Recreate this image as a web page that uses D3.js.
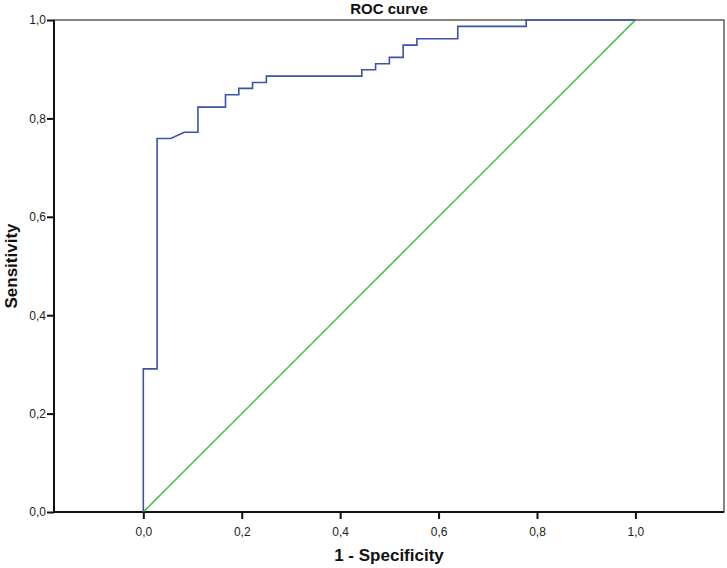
<!DOCTYPE html>
<html>
<head>
<meta charset="utf-8">
<script src="https://cdn.jsdelivr.net/npm/d3@7"></script>
<style>
  html, body { margin: 0; padding: 0; background: #fff; }
  svg text { font-family: Arial, "Liberation Sans", sans-serif; }
</style>
</head>
<body>
<svg id="chart" width="727" height="568"></svg>
<script>
// ROC curve points (1 - specificity, sensitivity)
const fpr = [0, 0, 0.028, 0.028, 0.056, 0.083, 0.111, 0.111, 0.167, 0.167, 0.194, 0.194, 0.222, 0.222, 0.25, 0.25, 0.444, 0.444, 0.472, 0.472, 0.5, 0.5, 0.528, 0.528, 0.556, 0.556, 0.639, 0.639, 0.778, 0.778, 1.0];
const tpr = [0, 0.291, 0.291, 0.759, 0.759, 0.772, 0.772, 0.823, 0.823, 0.848, 0.848, 0.861, 0.861, 0.873, 0.873, 0.886, 0.886, 0.899, 0.899, 0.911, 0.911, 0.924, 0.924, 0.949, 0.949, 0.962, 0.962, 0.987, 0.987, 1.0, 1.0];
// reference diagonal
const refX = [0, 1];
const refY = [0, 1];
const xTicks = [0, 0.2, 0.4, 0.6, 0.8, 1.0];
const yTicks = [0, 0.2, 0.4, 0.6, 0.8, 1.0];
const titleText = "ROC curve";
const xLabel = "1 - Specificity";
const yLabel = "Sensitivity";

(function () {
const svg = d3.select("#chart");
const mLeft = 54, mRight = 724, mTop = 20, mBottom = 512;

const x = d3.scaleLinear().domain([-0.1815, 1.18]).range([mLeft, mRight]);
const y = d3.scaleLinear().domain([0, 1]).range([mBottom, mTop]);
const fmt = d => d3.format(".1f")(d).replace(".", ",");

// frame (top/right)
svg.append("rect")
  .attr("x", mLeft).attr("y", mTop)
  .attr("width", mRight - mLeft).attr("height", mBottom - mTop)
  .attr("fill", "none").attr("stroke", "#444").attr("stroke-width", 1.3);

// axes
const yAxis = d3.axisLeft(y).tickValues(yTicks).tickFormat(fmt).tickSize(7).tickPadding(1);
const xAxis = d3.axisBottom(x).tickValues(xTicks).tickFormat(fmt).tickSize(7).tickPadding(8);

const gy = svg.append("g").attr("transform", `translate(${mLeft},0)`).call(yAxis);
const gx = svg.append("g").attr("transform", `translate(0,${mBottom})`).call(xAxis);
[gx, gy].forEach(g => {
  g.select(".domain").attr("stroke", "#111").attr("stroke-width", 2);
  g.selectAll(".tick line").attr("stroke", "#111").attr("stroke-width", 2);
  g.selectAll(".tick text").attr("fill", "#222").style("font-size", "12px")
    .style("font-family", "Arial, 'Liberation Sans', sans-serif");
});
gx.select(".domain").attr("d", `M${mLeft},0H${mRight}`);
gy.select(".domain").attr("d", `M0,${mTop}V${mBottom}`);

// diagonal reference line
const line = d3.line().x(d => x(d[0])).y(d => y(d[1]));
svg.append("path")
  .datum(refX.map((v, i) => [v, refY[i]]))
  .attr("d", line).attr("fill", "none")
  .attr("stroke", "#2ab934").attr("stroke-width", 1.3);

// ROC curve
svg.append("path")
  .datum(fpr.map((v, i) => [v, tpr[i]]))
  .attr("d", line).attr("fill", "none")
  .attr("stroke", "#3b53a8").attr("stroke-width", 1.6);

// title
svg.append("text")
  .attr("x", (mLeft + mRight) / 2).attr("y", 14)
  .attr("text-anchor", "middle")
  .style("font-size", "15px").style("font-weight", "bold").attr("fill", "#111")
  .text(titleText);

// x label
svg.append("text")
  .attr("x", (mLeft + mRight) / 2).attr("y", 561)
  .attr("text-anchor", "middle")
  .style("font-size", "17px").style("font-weight", "bold").attr("fill", "#111")
  .text(xLabel);

// y label
svg.append("text")
  .attr("transform", `translate(17,${(mTop + mBottom) / 2}) rotate(-90)`)
  .attr("text-anchor", "middle")
  .style("font-size", "17px").style("font-weight", "bold").attr("fill", "#111")
  .text(yLabel);
})();
</script>
</body>
</html>
